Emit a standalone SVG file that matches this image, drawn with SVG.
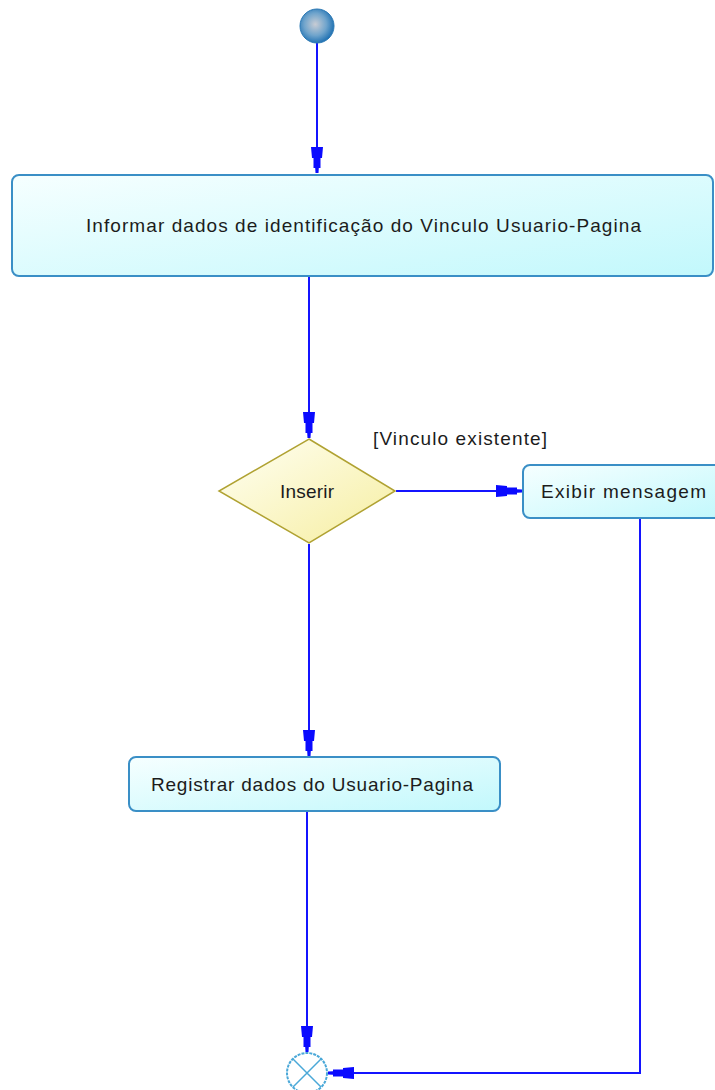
<svg xmlns="http://www.w3.org/2000/svg" width="715" height="1090" viewBox="0 0 715 1090">
<defs>
<style>
.act{stroke:#3a8fc6;stroke-width:2;fill:url(#gAct)}
.lbl{font-family:"Liberation Sans",Arial,sans-serif;font-size:19px;fill:#1c1c1c}
.conn{stroke:#1414ff;stroke-width:2;fill:none;marker-end:url(#arr)}
</style>
<linearGradient id="gAct" x1="0" y1="0" x2="1" y2="1">
<stop offset="0" stop-color="#f6ffff"/>
<stop offset="1" stop-color="#c2f8fc"/>
</linearGradient>
<linearGradient id="gDec" x1="0" y1="0" x2="1" y2="1">
<stop offset="0" stop-color="#fffff4"/>
<stop offset="1" stop-color="#f6eea0"/>
</linearGradient>
<radialGradient id="gStart" cx="0.45" cy="0.45" r="0.55">
<stop offset="0" stop-color="#c8ccd4"/>
<stop offset="0.6" stop-color="#6fa4cc"/>
<stop offset="1" stop-color="#2474b4"/>
</radialGradient>
<marker id="arr" markerUnits="userSpaceOnUse" viewBox="-28 -7 30 14" markerWidth="30" markerHeight="14" refX="0" refY="0" orient="auto">
<path d="M-26,-6 L-15,-5 L-15,-3.5 L-5,-3.5 L-5,-1.8 L0,-1.5 L0,1.5 L-5,1.8 L-5,3.5 L-15,3.5 L-15,5 L-26,6 Z" fill="#0a0aff"/>
</marker>
</defs>
<g id="connectors">
<path class="conn" d="M317,43 L317,173"/>
<path class="conn" d="M309,277 L309,438"/>
<path class="conn" d="M396,491 L522,491"/>
<path class="conn" d="M309,544 L309,756"/>
<path class="conn" d="M307,812 L307,1052"/>
<path class="conn" d="M640,519 L640,1073 L328,1073"/>
</g>
<g id="start">
<circle cx="317" cy="26" r="17" fill="url(#gStart)" stroke="#2a78b4" stroke-width="1"/>
</g>
<g id="informar">
<rect class="act" x="12" y="175" width="701" height="101" rx="7"/>
<text class="lbl" x="86" y="232" textLength="555" lengthAdjust="spacing">Informar dados de identificação do Vinculo Usuario-Pagina</text>
</g>
<g id="inserir">
<polygon points="309,439 395,491 309,543 219,491" fill="url(#gDec)" stroke="#b0a232" stroke-width="1.5"/>
<text class="lbl" x="280" y="498" textLength="54" lengthAdjust="spacing">Inserir</text>
</g>
<g id="guard">
<text class="lbl" x="373" y="445" textLength="174" lengthAdjust="spacing">[Vinculo existente]</text>
</g>
<g id="exibir">
<rect class="act" x="523" y="465" width="200" height="53" rx="7"/>
<text class="lbl" x="541" y="498" textLength="165" lengthAdjust="spacing">Exibir mensagem</text>
</g>
<g id="registrar">
<rect class="act" x="129" y="757" width="371" height="54" rx="7"/>
<text class="lbl" x="151" y="791" textLength="322" lengthAdjust="spacing">Registrar dados do Usuario-Pagina</text>
</g>
<g id="end">
<circle cx="307" cy="1073" r="20" fill="#ffffff" stroke="#4aa8d8" stroke-width="2" stroke-dasharray="3 1"/>
<path d="M293,1059 L321,1087 M321,1059 L293,1087" stroke="#4aa8d8" stroke-width="1.5" fill="none"/>
</g>
</svg>
